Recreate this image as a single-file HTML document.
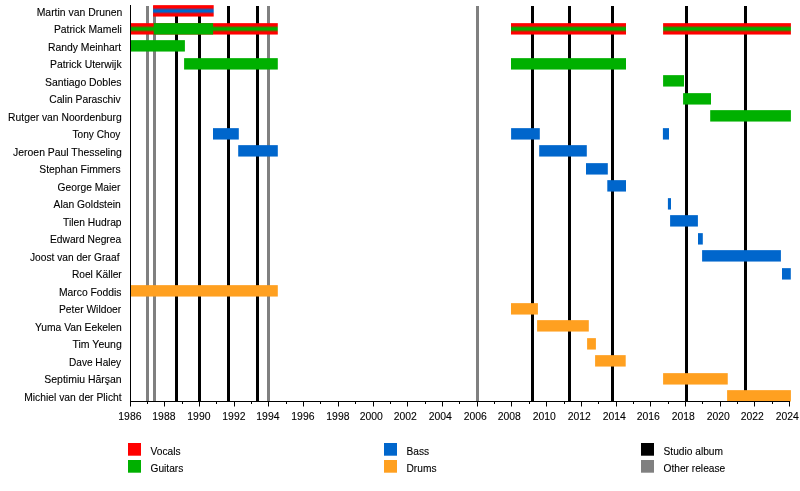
<!DOCTYPE html>
<html><head><meta charset="utf-8"><title>Pestilence timeline</title>
<style>
html,body{margin:0;padding:0;background:#fff;width:800px;height:491px;overflow:hidden}
svg{display:block}
text{font-family:"Liberation Sans",sans-serif;fill:#000;stroke:#000;stroke-width:0.1px}
svg{will-change:transform}
</style></head><body>
<svg width="800" height="491" viewBox="0 0 800 491">
<rect x="0" y="0" width="800" height="491" fill="#fff"/>

<rect x="146.0" y="6" width="3" height="395" fill="#808080"/>
<rect x="153.0" y="6" width="3" height="395" fill="#808080"/>
<rect x="267.0" y="6" width="3" height="395" fill="#808080"/>
<rect x="476.0" y="6" width="3" height="395" fill="#808080"/>
<rect x="175.0" y="6" width="3" height="395" fill="#000000"/>
<rect x="198.0" y="6" width="3" height="395" fill="#000000"/>
<rect x="227.0" y="6" width="3" height="395" fill="#000000"/>
<rect x="256.0" y="6" width="3" height="395" fill="#000000"/>
<rect x="531.0" y="6" width="3" height="395" fill="#000000"/>
<rect x="568.0" y="6" width="3" height="395" fill="#000000"/>
<rect x="611.0" y="6" width="3" height="395" fill="#000000"/>
<rect x="685.0" y="6" width="3" height="395" fill="#000000"/>
<rect x="744.0" y="6" width="3" height="395" fill="#000000"/>
<defs><linearGradient id="rg" x1="0" y1="0" x2="0" y2="1"><stop offset="0" stop-color="#ff0000"/><stop offset="0.2237" stop-color="#ff0000"/><stop offset="0.4167" stop-color="#00b000"/><stop offset="0.5833" stop-color="#00b000"/><stop offset="0.7763" stop-color="#ff0000"/><stop offset="1" stop-color="#ff0000"/></linearGradient><linearGradient id="rb" x1="0" y1="0" x2="0" y2="1"><stop offset="0" stop-color="#ff0000"/><stop offset="0.2303" stop-color="#ff0000"/><stop offset="0.4232" stop-color="#0066cc"/><stop offset="0.5768" stop-color="#0066cc"/><stop offset="0.7697" stop-color="#ff0000"/><stop offset="1" stop-color="#ff0000"/></linearGradient></defs>
<rect x="153.1" y="5.15" width="60.60" height="11.4" fill="url(#rb)"/>
<rect x="130.5" y="23.15" width="147.30" height="11.4" fill="url(#rg)"/>
<rect x="153.7" y="23.15" width="59.40" height="11.4" fill="#00b000"/>
<rect x="511.0" y="23.15" width="115.00" height="11.4" fill="url(#rg)"/>
<rect x="663.1" y="23.15" width="127.80" height="11.4" fill="url(#rg)"/>
<rect x="130.5" y="40.15" width="54.40" height="11.4" fill="#00b000"/>
<rect x="184.1" y="58.15" width="93.70" height="11.4" fill="#00b000"/>
<rect x="511.0" y="58.15" width="115.00" height="11.4" fill="#00b000"/>
<rect x="663.1" y="75.15" width="20.90" height="11.4" fill="#00b000"/>
<rect x="683.1" y="93.15" width="27.90" height="11.4" fill="#00b000"/>
<rect x="710.2" y="110.15" width="80.70" height="11.4" fill="#00b000"/>
<rect x="213.0" y="128.15" width="25.80" height="11.4" fill="#0066cc"/>
<rect x="511.1" y="128.15" width="28.70" height="11.4" fill="#0066cc"/>
<rect x="662.9" y="128.15" width="6.10" height="11.4" fill="#0066cc"/>
<rect x="238.2" y="145.15" width="39.60" height="11.4" fill="#0066cc"/>
<rect x="539.2" y="145.15" width="47.60" height="11.4" fill="#0066cc"/>
<rect x="586.0" y="163.15" width="21.80" height="11.4" fill="#0066cc"/>
<rect x="607.3" y="180.15" width="18.70" height="11.4" fill="#0066cc"/>
<rect x="667.9" y="198.15" width="3.10" height="11.4" fill="#0066cc"/>
<rect x="670.1" y="215.15" width="27.80" height="11.4" fill="#0066cc"/>
<rect x="698.0" y="233.15" width="4.80" height="11.4" fill="#0066cc"/>
<rect x="702.1" y="250.15" width="78.80" height="11.4" fill="#0066cc"/>
<rect x="782.0" y="268.15" width="8.80" height="11.4" fill="#0066cc"/>
<rect x="130.5" y="285.15" width="147.30" height="11.4" fill="#ffa020"/>
<rect x="511.0" y="303.15" width="26.90" height="11.4" fill="#ffa020"/>
<rect x="537.1" y="320.15" width="51.70" height="11.4" fill="#ffa020"/>
<rect x="587.1" y="338.15" width="8.80" height="11.4" fill="#ffa020"/>
<rect x="595.1" y="355.15" width="30.60" height="11.4" fill="#ffa020"/>
<rect x="663.1" y="373.15" width="64.65" height="11.4" fill="#ffa020"/>
<rect x="727.1" y="390.15" width="63.80" height="11.4" fill="#ffa020"/>
<rect x="130" y="5" width="1" height="397" fill="#000"/>
<rect x="130" y="401" width="660" height="1" fill="#000"/>
<rect x="130" y="401" width="1" height="5.5" fill="#000"/>
<text x="129.90" y="419.5" font-size="10.4" text-anchor="middle">1986</text>
<rect x="147" y="401" width="1" height="3" fill="#000"/>
<rect x="164" y="401" width="1" height="5.5" fill="#000"/>
<text x="163.90" y="419.5" font-size="10.4" text-anchor="middle">1988</text>
<rect x="182" y="401" width="1" height="3" fill="#000"/>
<rect x="199" y="401" width="1" height="5.5" fill="#000"/>
<text x="198.90" y="419.5" font-size="10.4" text-anchor="middle">1990</text>
<rect x="216" y="401" width="1" height="3" fill="#000"/>
<rect x="234" y="401" width="1" height="5.5" fill="#000"/>
<text x="233.90" y="419.5" font-size="10.4" text-anchor="middle">1992</text>
<rect x="251" y="401" width="1" height="3" fill="#000"/>
<rect x="268" y="401" width="1" height="5.5" fill="#000"/>
<text x="267.90" y="419.5" font-size="10.4" text-anchor="middle">1994</text>
<rect x="286" y="401" width="1" height="3" fill="#000"/>
<rect x="303" y="401" width="1" height="5.5" fill="#000"/>
<text x="302.90" y="419.5" font-size="10.4" text-anchor="middle">1996</text>
<rect x="320" y="401" width="1" height="3" fill="#000"/>
<rect x="338" y="401" width="1" height="5.5" fill="#000"/>
<text x="337.90" y="419.5" font-size="10.4" text-anchor="middle">1998</text>
<rect x="355" y="401" width="1" height="3" fill="#000"/>
<rect x="373" y="401" width="1" height="5.5" fill="#000"/>
<text x="371.30" y="419.5" font-size="10.4" text-anchor="middle">2000</text>
<rect x="390" y="401" width="1" height="3" fill="#000"/>
<rect x="407" y="401" width="1" height="5.5" fill="#000"/>
<text x="405.30" y="419.5" font-size="10.4" text-anchor="middle">2002</text>
<rect x="425" y="401" width="1" height="3" fill="#000"/>
<rect x="442" y="401" width="1" height="5.5" fill="#000"/>
<text x="440.30" y="419.5" font-size="10.4" text-anchor="middle">2004</text>
<rect x="459" y="401" width="1" height="3" fill="#000"/>
<rect x="477" y="401" width="1" height="5.5" fill="#000"/>
<text x="475.30" y="419.5" font-size="10.4" text-anchor="middle">2006</text>
<rect x="494" y="401" width="1" height="3" fill="#000"/>
<rect x="511" y="401" width="1" height="5.5" fill="#000"/>
<text x="509.30" y="419.5" font-size="10.4" text-anchor="middle">2008</text>
<rect x="529" y="401" width="1" height="3" fill="#000"/>
<rect x="546" y="401" width="1" height="5.5" fill="#000"/>
<text x="544.30" y="419.5" font-size="10.4" text-anchor="middle">2010</text>
<rect x="564" y="401" width="1" height="3" fill="#000"/>
<rect x="581" y="401" width="1" height="5.5" fill="#000"/>
<text x="579.30" y="419.5" font-size="10.4" text-anchor="middle">2012</text>
<rect x="598" y="401" width="1" height="3" fill="#000"/>
<rect x="616" y="401" width="1" height="5.5" fill="#000"/>
<text x="614.30" y="419.5" font-size="10.4" text-anchor="middle">2014</text>
<rect x="633" y="401" width="1" height="3" fill="#000"/>
<rect x="650" y="401" width="1" height="5.5" fill="#000"/>
<text x="648.30" y="419.5" font-size="10.4" text-anchor="middle">2016</text>
<rect x="668" y="401" width="1" height="3" fill="#000"/>
<rect x="685" y="401" width="1" height="5.5" fill="#000"/>
<text x="683.30" y="419.5" font-size="10.4" text-anchor="middle">2018</text>
<rect x="702" y="401" width="1" height="3" fill="#000"/>
<rect x="720" y="401" width="1" height="5.5" fill="#000"/>
<text x="718.30" y="419.5" font-size="10.4" text-anchor="middle">2020</text>
<rect x="737" y="401" width="1" height="3" fill="#000"/>
<rect x="754" y="401" width="1" height="5.5" fill="#000"/>
<text x="752.30" y="419.5" font-size="10.4" text-anchor="middle">2022</text>
<rect x="772" y="401" width="1" height="3" fill="#000"/>
<rect x="789" y="401" width="1" height="5.5" fill="#000"/>
<text x="787.30" y="419.5" font-size="10.4" text-anchor="middle">2024</text>
<text transform="translate(36.68,15.80) scale(1.0219,1)" font-size="10.2">Martin van Drunen</text>
<text transform="translate(53.89,32.60) scale(1.0168,1)" font-size="10.2">Patrick Mameli</text>
<text transform="translate(47.93,50.80) scale(1.0190,1)" font-size="10.2">Randy Meinhart</text>
<text transform="translate(49.98,67.60) scale(1.0202,1)" font-size="10.2">Patrick Uterwijk</text>
<text transform="translate(45.09,85.80) scale(1.0217,1)" font-size="10.2">Santiago Dobles</text>
<text transform="translate(49.20,102.60) scale(1.0100,1)" font-size="10.2">Calin Paraschiv</text>
<text transform="translate(8.09,120.80) scale(1.0136,1)" font-size="10.2">Rutger van Noordenburg</text>
<text transform="translate(72.50,137.60) scale(0.9937,1)" font-size="10.2">Tony Choy</text>
<text transform="translate(13.10,155.80) scale(1.0228,1)" font-size="10.2">Jeroen Paul Thesseling</text>
<text transform="translate(39.29,172.60) scale(1.0126,1)" font-size="10.2">Stephan Fimmers</text>
<text transform="translate(57.60,190.80) scale(1.0097,1)" font-size="10.2">George Maier</text>
<text transform="translate(53.60,207.60) scale(1.0122,1)" font-size="10.2">Alan Goldstein</text>
<text transform="translate(63.10,225.80) scale(1.0087,1)" font-size="10.2">Tilen Hudrap</text>
<text transform="translate(50.00,242.60) scale(1.0043,1)" font-size="10.2">Edward Negrea</text>
<text transform="translate(30.00,260.80) scale(1.0000,1)" font-size="10.2">Joost van der Graaf</text>
<text transform="translate(71.90,277.60) scale(1.0000,1)" font-size="10.2">Roel K&#228;ller</text>
<text transform="translate(58.99,295.80) scale(1.0132,1)" font-size="10.2">Marco Foddis</text>
<text transform="translate(58.99,312.60) scale(1.0082,1)" font-size="10.2">Peter Wildoer</text>
<text transform="translate(34.90,330.80) scale(1.0118,1)" font-size="10.2">Yuma Van Eekelen</text>
<text transform="translate(72.49,347.60) scale(1.0320,1)" font-size="10.2">Tim Yeung</text>
<text transform="translate(69.01,365.80) scale(0.9903,1)" font-size="10.2">Dave Haley</text>
<text transform="translate(44.29,382.60) scale(1.0283,1)" font-size="10.2">Septimiu H&#259;r&#351;an</text>
<text transform="translate(24.19,400.80) scale(1.0126,1)" font-size="10.2">Michiel van der Plicht</text>
<rect x="128" y="443" width="13" height="12.7" fill="#ff0000"/>
<text x="150.5" y="455.10" font-size="10.2">Vocals</text>
<rect x="128" y="460" width="13" height="12.7" fill="#00b000"/>
<text x="150.5" y="472.10" font-size="10.2">Guitars</text>
<rect x="384" y="443" width="13" height="12.7" fill="#0066cc"/>
<text x="406.5" y="455.10" font-size="10.2">Bass</text>
<rect x="384" y="460" width="13" height="12.7" fill="#ffa020"/>
<text x="406.5" y="472.10" font-size="10.2">Drums</text>
<rect x="641" y="443" width="13" height="12.7" fill="#000000"/>
<text x="663.5" y="455.10" font-size="10.2">Studio album</text>
<rect x="641" y="460" width="13" height="12.7" fill="#808080"/>
<text x="663.5" y="472.10" font-size="10.2">Other release</text>
</svg></body></html>
